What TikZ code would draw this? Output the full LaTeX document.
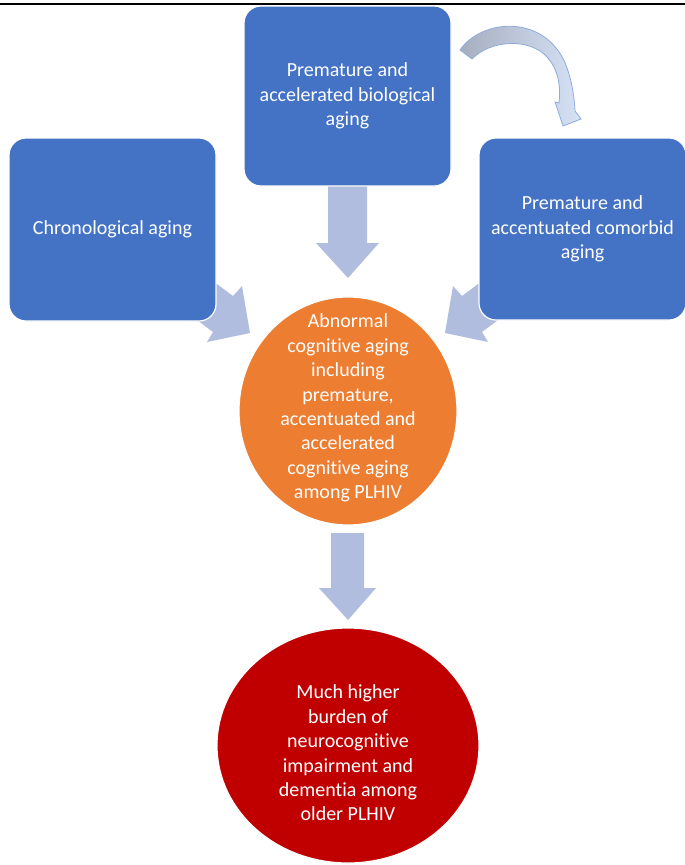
\documentclass[tikz,border=0pt]{standalone}
\usepackage{fontspec}
\setmainfont{Carlito}[Ligatures=NoCommon]
\usetikzlibrary{shapes.geometric}
\definecolor{boxblue}{RGB}{68,114,196}
\definecolor{orangeF}{RGB}{237,125,49}
\definecolor{redF}{RGB}{192,0,0}
\definecolor{arrowF}{RGB}{176,189,222}
\definecolor{curveA}{RGB}{166,174,190}
\definecolor{curveB}{RGB}{214,226,247}
\definecolor{curveL}{RGB}{143,170,220}
\begin{document}
\begin{tikzpicture}[x=1pt,y=-1pt,
  box/.style={rectangle, rounded corners=17pt, fill=boxblue, draw=white, line width=1.2pt, text=white, align=center, font=\fontsize{20}{24.4}\selectfont, inner sep=0pt},
  oval/.style={ellipse, draw=white, line width=1.2pt, inner sep=0pt},
  lbl/.style={text=white, align=center, font=\fontsize{20}{24.4}\selectfont, inner sep=0pt},
  blockarrow/.style={fill=arrowF}]
\useasboundingbox (0,0) rectangle (685,865);
\fill[white] (0,0) rectangle (685,865);
% top rule
\draw[line width=2.2pt] (0,4) -- (685,4);
% block arrows (behind shapes)
\fill[blockarrow] (328,170) -- (367,170) -- (367,243) -- (379,243) -- (348,278) -- (316,243) -- (328,243) -- cycle;
\fill[blockarrow] (331,533) -- (364,533) -- (364,588) -- (376,588) -- (348,620) -- (319,588) -- (331,588) -- cycle;
\fill[blockarrow] (185,260) -- (233,296) -- (242,286) -- (250,333) -- (207,342) -- (213,332) -- (165,296) -- cycle;
\fill[blockarrow] (510,260) -- (462,296) -- (453,286) -- (445,333) -- (488,342) -- (482,332) -- (530,296) -- cycle;
% boxes
\node[box, minimum width=207pt, minimum height=183pt] (chrono) at (112.5,229.5) {Chronological aging};
\node[box, minimum width=207pt, minimum height=180pt] (bio) at (347.5,96) {Premature and\\accelerated biological\\aging};
\node[box, minimum width=207pt, minimum height=182pt] (comorb) at (582.5,229) {Premature and\\accentuated comorbid\\aging};
% curved arrow
\path[draw=curveL, line width=0.8pt, left color=curveA, right color=curveB]
  (460,50) .. controls (480,21) and (536,14) .. (561,55)
  .. controls (569,68) and (574,90) .. (575,111)
  -- (581,119) -- (563,126) -- (555,102) -- (559,103)
  .. controls (561,85) and (558,70) .. (548,58)
  .. controls (530,37) and (490,40) .. (472,59) -- cycle;
% ellipses
\node[oval, fill=orangeF, minimum width=218pt, minimum height=228pt] (cog) at (348,411) {};
\node[lbl] (cogtext) at (348,408) {Abnormal\\cognitive aging\\including\\premature,\\accentuated and\\accelerated\\cognitive aging\\among PLHIV};
\node[oval, fill=redF, minimum width=262pt, minimum height=235pt] (burden) at (348,745.5) {};
\node[lbl] (burdentext) at (348,753) {Much higher\\burden of\\neurocognitive\\impairment and\\dementia among\\older PLHIV};
\end{tikzpicture}
\end{document}
